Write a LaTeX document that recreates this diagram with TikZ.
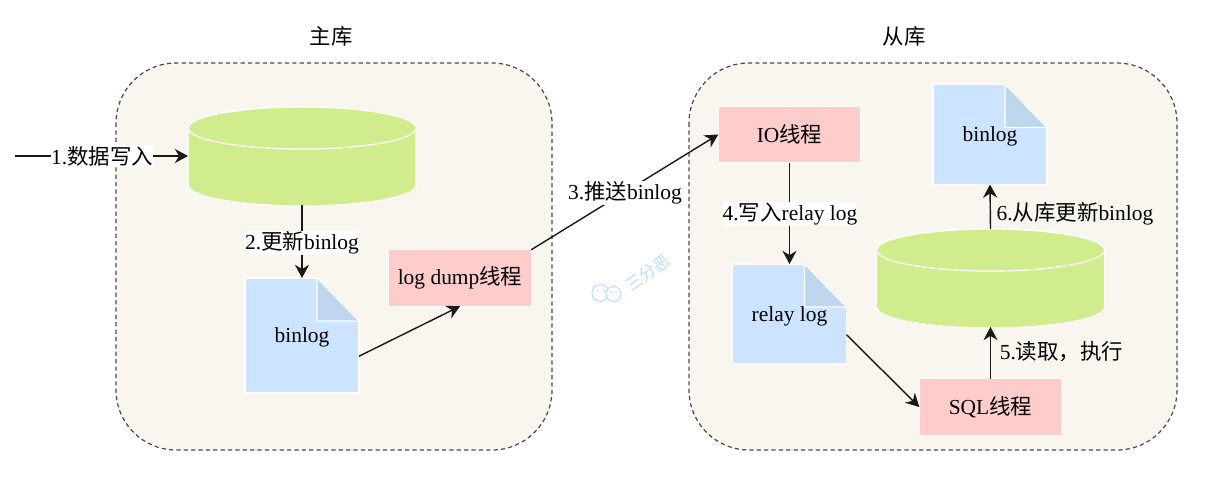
\documentclass[tikz,border=0pt]{standalone}
\usepackage{fontspec}
\setmainfont{Liberation Serif}
\newfontfamily\cjk{Noto Sans CJK SC}
\usetikzlibrary{arrows.meta}
\definecolor{panelbg}{HTML}{F8F6EE}
\definecolor{dbgreen}{HTML}{D0EC8C}
\definecolor{docblue}{HTML}{CCE4FF}
\definecolor{foldblue}{HTML}{BED6EE}
\definecolor{threadpink}{HTML}{FFCCCC}
\definecolor{markblue}{HTML}{BBDEFB}
\tikzset{
  every node/.style={font=\fontsize{12.2}{15}\selectfont,inner sep=0pt,outer sep=0pt},
  panelbox/.style={draw=black!70,fill=panelbg,line width=0.7pt,dash pattern=on 2.4pt off 1.8pt,rounded corners=1.2cm},
  dbnode/.style={rectangle,minimum width=4.56cm,minimum height=1.96cm},
  docnode/.style={rectangle,draw=white,line width=0.6pt,fill=docblue,minimum width=2.28cm,minimum height=2.3cm,text depth=0pt},
  threadnode/.style={rectangle,draw=white,line width=0.6pt,fill=threadpink,minimum width=2.85cm,minimum height=1.13cm},
  steplabel/.style={fill=white,inner xsep=0pt,inner ysep=0.5pt},
  flowline/.style={-{Stealth[length=7.5pt,width=8pt]},line width=0.8pt,black!90},
}
\begin{document}
\begin{tikzpicture}[x=0.02cm,y=-0.02cm]
\useasboundingbox (0,0) rectangle (1218,494);
\draw[panelbox] (116,63) rectangle (552,450);
\draw[panelbox] (689,63) rectangle (1177,450);
\node (titleMaster) at (331,36) {{\cjk 主库}};
\node (titleSlave) at (904,36) {{\cjk 从库}};
\node[dbnode] (dbMaster) at (302,156) {};
\node[dbnode] (dbSlave) at (990.5,278) {};
\foreach \db in {dbMaster,dbSlave} {
  \draw[white,line width=0.7pt,fill=dbgreen] (\db.north west) ++(0,21) -- ++(0,57) arc[start angle=180,end angle=0,x radius=114,y radius=21] -- ++(0,-57) arc[start angle=0,end angle=-180,x radius=114,y radius=21] -- cycle;
  \draw[white,line width=0.7pt] (\db.north west) ++(0,21) arc[start angle=180,end angle=0,x radius=114,y radius=21];
}
\node[docnode] (binlogMaster) at (302,335.5) {binlog};
\node[docnode,minimum height=2cm] (binlogSlave) at (990,134.5) {binlog};
\node[docnode,minimum height=2cm] (relayLog) at (789.5,314) {relay log};
\foreach \doc in {binlogMaster,binlogSlave,relayLog} {
  \fill[panelbg] (\doc.north east) ++(-42,-1) -- ++(43,0) -- ++(0,44) -- cycle;
  \draw[white,line width=0.6pt,fill=foldblue] (\doc.north east) ++(-42,0) -- ++(42,43) -- ++(-42,0) -- cycle;
}
\node[threadnode] (logDump) at (460,278) {log dump{\cjk 线程}};
\node[threadnode] (ioThread) at (789.5,134.5) {IO{\cjk 线程}};
\node[threadnode] (sqlThread) at (990.5,407) {SQL{\cjk 线程}};
\coordinate (clientIn) at (15,156);
\draw[flowline] (clientIn) -- (dbMaster.west);
\draw[flowline] (dbMaster.south) -- (binlogMaster.north);
\draw[flowline] (binlogMaster.-20.7) -- (logDump.south);
\draw[flowline] (logDump.north east) -- (ioThread.west);
\draw[flowline] (ioThread.south) -- (relayLog.north);
\draw[flowline] (relayLog.-20.4) -- (sqlThread.west);
\draw[flowline] (sqlThread.north) -- (dbSlave.south);
\draw[flowline] (dbSlave.north) -- (binlogSlave.south);
\node[steplabel] (stepOne) at (102,156) {1.{\cjk 数据写入}};
\node[steplabel] (stepTwo) at (302,243) {2.{\cjk 更新}binlog};
\node[steplabel] (stepThree) at (625,193) {3.{\cjk 推送}binlog};
\node[steplabel] (stepFour) at (790,214) {4.{\cjk 写入}relay log};
\node (stepFive) at (1061.5,352) {5.{\cjk 读取，执行}};
\node (stepSix) at (1075,214) {6.{\cjk 从库更新}binlog};
\draw[markblue,line width=0.6pt,fill=white] (600.5,293) circle (8.5);
\draw[markblue,line width=0.6pt,fill=white] (613.5,294) circle (7.5);
\fill[markblue] (597,291) circle (1) (604,291) circle (1) (611,292) circle (1) (616,292) circle (1);
\node[rotate=36,text=markblue,font=\fontsize{9.5}{11}\selectfont] (markText) at (648,273) {{\cjk 三分恶}};
\end{tikzpicture}
\end{document}
